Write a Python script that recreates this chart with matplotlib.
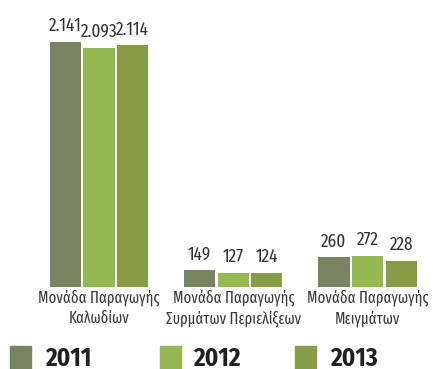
import matplotlib
matplotlib.use("Agg")
import matplotlib.pyplot as plt
from matplotlib.patches import Rectangle
import numpy as np

plt.rcParams['font.family'] = ['Fira Sans Extra Condensed', 'Fira Sans Condensed', 'DejaVu Sans']

# data
categories = ["Μονάδα Παραγωγής\nΚαλωδίων",
              "Μονάδα Παραγωγής\nΣυρμάτων Περιελίξεων",
              "Μονάδα Παραγωγής\nΜειγμάτων"]
years = ["2011", "2012", "2013"]
values_2011 = [2141, 149, 260]
values_2012 = [2093, 127, 272]
values_2013 = [2114, 124, 228]
colors = ["#78835f", "#94b951", "#869c45"]


def fmt(v):
    # greek style thousands separator
    return f"{v:,}".replace(",", ".")


fig = plt.figure(figsize=(4.33, 3.69), dpi=100)
ax = fig.add_axes([0, 0.222, 1, 0.778])

x = np.arange(len(categories))
width = 0.232
offset = 0.25
series = [values_2011, values_2012, values_2013]
for i, vals in enumerate(series):
    bars = ax.bar(x + (i - 1) * offset, vals, width, color=colors[i])
    for b, v in zip(bars, vals):
        ax.annotate(fmt(v), (b.get_x() + b.get_width() / 2, b.get_height()),
                    xytext=(0, 5), textcoords="offset points",
                    ha="center", va="bottom", fontsize=13.5, color="#333333")

ax.set_xlim(-0.737, 2.487)
ax.set_ylim(0, 2509)
ax.axis("off")

for xi, cat in zip(x, categories):
    ax.text(xi, -20, cat, ha="center", va="top", fontsize=11.5,
            color="#3a3a3a", linespacing=1.35)

# legend drawn by hand at the bottom
leg_sq_x = [10, 160, 295]
leg_txt_x = [45, 193, 330]
for sx, tx, yr, c in zip(leg_sq_x, leg_txt_x, years, colors):
    fig.patches.append(Rectangle((sx / 433, 0), 21 / 433, 23 / 369,
                                 transform=fig.transFigure, color=c))
    fig.text(tx / 433, 10 / 369, yr, fontsize=18, fontweight="bold",
             family=['Fira Sans Condensed', 'DejaVu Sans'],
             color="#231f20", va="center", ha="left")

fig.savefig("out.png", dpi=100)
